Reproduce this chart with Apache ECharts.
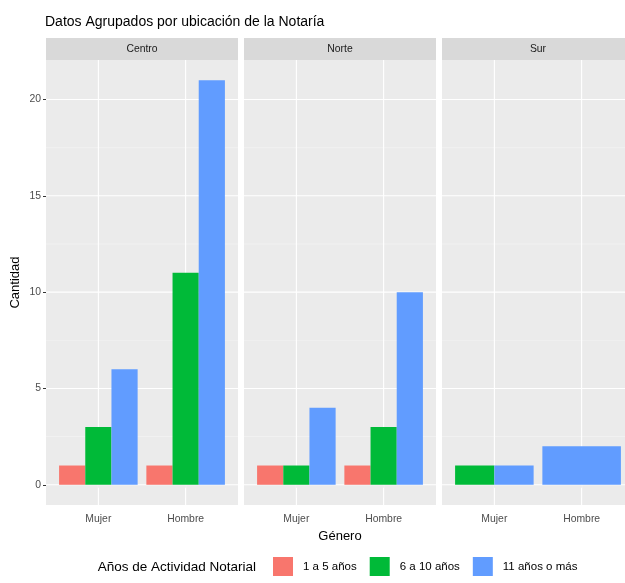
<!DOCTYPE html>
<html>
<head>
<meta charset="utf-8">
<script src="https://cdn.jsdelivr.net/npm/echarts@6/dist/echarts.min.js"></script>
<style>
  html, body { margin: 0; padding: 0; background: #fff; overflow: hidden; }
  #chart { width: 634px; height: 583px; }
</style>
</head>
<body>
<div id="chart"></div>
<script>
// data
const categories = ['Mujer', 'Hombre'];
const panels = ['Centro', 'Norte', 'Sur'];
const groups = ['1 a 5 años', '6 a 10 años', '11 años o más'];
const groupColors = ['#F8766D', '#00BA38', '#619CFF'];

// values per panel, one array per group, indexed by category (null = no bar)
const centro1a5 = [1, 1];
const centro6a10 = [3, 11];
const centro11mas = [6, 21];
const norte1a5 = [1, 1];
const norte6a10 = [1, 3];
const norte11mas = [4, 10];
const sur1a5 = [null, null];
const sur6a10 = [1, null];
const sur11mas = [1, 2];

const yTicks = [0, 5, 10, 15, 20];
const yMinor = [2.5, 7.5, 12.5, 17.5];
const xTicks = [1, 2];

const panelValues = [
  [centro1a5, centro6a10, centro11mas],
  [norte1a5, norte6a10, norte11mas],
  [sur1a5, sur6a10, sur11mas],
];

const font = '"Liberation Sans", Arial, sans-serif';
const panelLeft = [46, 244, 442];
const panelW = 192;
const panelTop = 60;
const panelH = 445;
const xMin = 0.4, xMax = 2.6, yMin = -1.05, yMax = 22.05;

// ggplot-like dodge: bars present in a category share the 0.9 band
function renderBar(params, api) {
  const x = api.value(0), y = api.value(1), slot = api.value(2), n = api.value(3);
  const base = api.coord([x, 0]);
  const top = api.coord([x, y]);
  const band = api.size([0.9, 0])[0];
  const w = band / n;
  return {
    type: 'rect',
    shape: { x: base[0] - band / 2 + slot * w, y: top[1], width: w, height: base[1] - top[1] },
    style: { fill: api.visual('color') },
  };
}

// panel grid lines: kind 0 = major y, 1 = minor y, 2 = x
function renderGridLine(params, api) {
  const kind = api.value(0), v = api.value(1);
  let a, b;
  if (kind === 2) {
    a = api.coord([v, yMin]); b = api.coord([v, yMax]);
  } else {
    a = api.coord([xMin, v]); b = api.coord([xMax, v]);
  }
  return {
    type: 'line',
    shape: { x1: a[0], y1: a[1], x2: b[0], y2: b[1] },
    style: { stroke: kind === 1 ? '#F5F5F5' : '#FFFFFF', lineWidth: kind === 1 ? 0.6 : 1.1 },
  };
}
const gridLineData = [
  ...yMinor.map(v => [1, v]),
  ...yTicks.map(v => [0, v]),
  ...xTicks.map(v => [2, v]),
];

const grids = [], xAxes = [], yAxes = [], series = [], graphics = [];

panels.forEach((p, pi) => {
  grids.push({
    left: panelLeft[pi], top: panelTop, width: panelW, height: panelH,
    show: true, backgroundColor: '#EBEBEB', borderWidth: 0,
  });
  xAxes.push({
    type: 'value', gridIndex: pi, min: xMin, max: xMax,
    name: pi === 1 ? 'Género' : '', nameLocation: 'middle', nameGap: 25,
    nameTextStyle: { fontFamily: font, fontSize: 13, color: '#000' },
    axisLine: { show: false },
    splitLine: { show: false },
    axisTick: { customValues: xTicks, length: 3, lineStyle: { color: '#333' } },
    axisLabel: {
      customValues: xTicks, margin: 9, fontFamily: font, fontSize: 10.4, color: '#4D4D4D',
      formatter: v => categories[Math.round(v) - 1],
    },
  });
  yAxes.push({
    type: 'value', gridIndex: pi, min: yMin, max: yMax,
    name: pi === 0 ? 'Cantidad' : '', nameLocation: 'middle', nameGap: 24, nameRotate: 90,
    nameTextStyle: { fontFamily: font, fontSize: 13, color: '#000' },
    axisLine: { show: false },
    splitLine: { show: false },
    axisTick: { show: pi === 0, customValues: yTicks, length: 3, lineStyle: { color: '#333' } },
    axisLabel: {
      show: pi === 0, customValues: yTicks, margin: 5, fontFamily: font, fontSize: 10.4, color: '#4D4D4D',
    },
  });

  series.push({
    type: 'custom', xAxisIndex: pi, yAxisIndex: pi, z: 1, silent: true, animation: false,
    renderItem: renderGridLine, data: gridLineData,
  });

  const vals = panelValues[pi];
  groups.forEach((g, gi) => {
    const data = [];
    categories.forEach((c, ci) => {
      const present = vals.map((arr, k) => (arr[ci] == null ? -1 : k)).filter(k => k >= 0);
      if (vals[gi][ci] == null) return;
      data.push([ci + 1, vals[gi][ci], present.indexOf(gi), present.length]);
    });
    series.push({
      type: 'custom', name: g, xAxisIndex: pi, yAxisIndex: pi, z: 3,
      itemStyle: { color: groupColors[gi] },
      renderItem: renderBar, data: data, animation: false,
    });
  });

  // facet strip
  graphics.push({
    type: 'rect', left: panelLeft[pi], top: 38, shape: { width: panelW, height: 22 },
    style: { fill: '#D9D9D9' },
  });
  graphics.push({
    type: 'text', x: panelLeft[pi] + panelW / 2, y: 49,
    style: { text: p, fontFamily: font, fontSize: 10.4, fill: '#1A1A1A', align: 'center', verticalAlign: 'middle' },
  });
});

graphics.push({
  type: 'text', x: 256, y: 567,
  style: { text: 'Años de Actividad Notarial', fontFamily: font, fontSize: 13.5, fill: '#000', align: 'right', verticalAlign: 'middle' },
});

const chart = echarts.init(document.getElementById('chart'));
chart.setOption({
  animation: false,
  title: {
    text: 'Datos Agrupados por ubicación de la Notaría', left: 40, top: 10,
    textStyle: { fontFamily: font, fontSize: 14, fontWeight: 'normal', color: '#000' },
  },
  grid: grids,
  xAxis: xAxes,
  yAxis: yAxes,
  legend: {
    data: groups.map((g, i) => ({ name: g, itemStyle: { color: groupColors[i] } })),
    icon: 'rect', left: 273, top: 557, padding: 0, itemWidth: 20, itemHeight: 19, itemGap: 13,
    textStyle: { fontFamily: font, fontSize: 11.5, color: '#000', padding: [0, 0, 0, 5] },
    selectedMode: false,
  },
  graphic: graphics,
  series: series,
});
</script>
</body>
</html>
